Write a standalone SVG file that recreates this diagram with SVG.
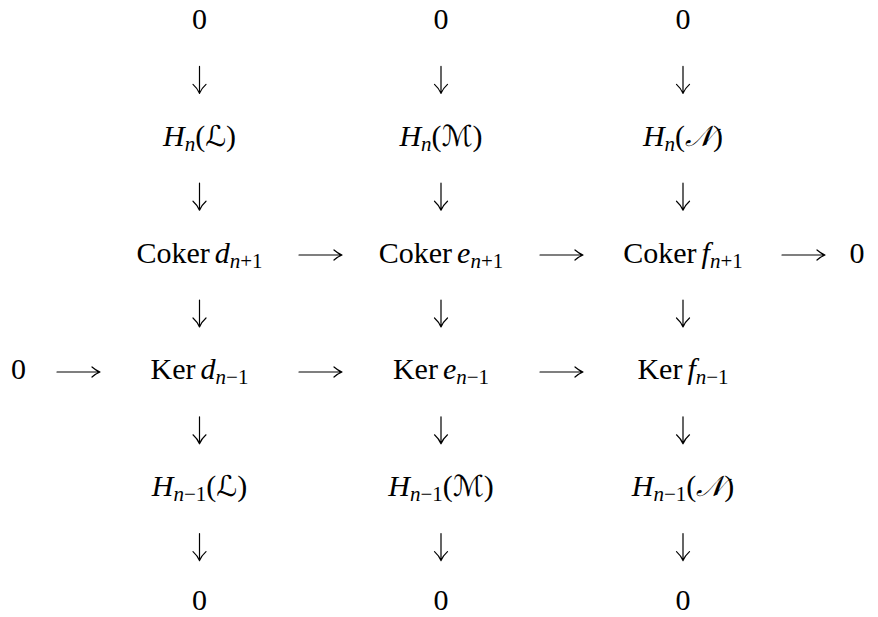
<svg xmlns="http://www.w3.org/2000/svg" width="878" height="617" viewBox="0 0 878 617">
<style>
.t{font-family:"Liberation Serif","DejaVu Serif",serif;font-size:30px;fill:#000;text-anchor:middle}
.i{font-style:italic}
.s{font-size:21px}
.c{font-family:"DejaVu Serif","DejaVu Sans",serif;font-style:italic;font-size:29px}
.a{fill:none;stroke:#000;stroke-width:1.2;stroke-linecap:round}
</style>
<defs>
<path id="dn" class="a" d="M0,0 V27 M-6.5,18 Q-2,22 0,27 M6.5,18 Q2,22 0,27"/>
<path id="rt" class="a" d="M0,0 H43 M35,-5 Q39,-1.5 43,0 M35,5 Q39,1.5 43,0"/>
</defs>
<rect width="878" height="617" fill="#fff"/>
<g id="connectors">
<use href="#dn" x="199.5" y="66.4"/><use href="#dn" x="441" y="66.4"/><use href="#dn" x="683" y="66.4"/>
<use href="#dn" x="199.5" y="183.2"/><use href="#dn" x="441" y="183.2"/><use href="#dn" x="683" y="183.2"/>
<use href="#dn" x="199.5" y="300"/><use href="#dn" x="441" y="300"/><use href="#dn" x="683" y="300"/>
<use href="#dn" x="199.5" y="416.8"/><use href="#dn" x="441" y="416.8"/><use href="#dn" x="683" y="416.8"/>
<use href="#dn" x="199.5" y="533.6"/><use href="#dn" x="441" y="533.6"/><use href="#dn" x="683" y="533.6"/>
<use href="#rt" x="299" y="255"/><use href="#rt" x="540" y="255"/><use href="#rt" x="782" y="255"/>
<use href="#rt" x="57" y="372"/><use href="#rt" x="299" y="372"/><use href="#rt" x="540" y="372"/>
</g>
<g id="zero-top-1"><text class="t" x="199.5" y="29">0</text></g>
<g id="zero-top-2"><text class="t" x="441" y="29">0</text></g>
<g id="zero-top-3"><text class="t" x="683" y="29">0</text></g>
<g id="Hn-L"><text class="t" x="199.5" y="145.8"><tspan class="i">H</tspan><tspan class="s i" dy="5">n</tspan><tspan dy="-5">(</tspan><tspan class="c">ℒ</tspan>)</text></g>
<g id="Hn-M"><text class="t" x="441" y="145.8"><tspan class="i">H</tspan><tspan class="s i" dy="5">n</tspan><tspan dy="-5">(</tspan><tspan class="c">ℳ</tspan>)</text></g>
<g id="Hn-N"><text class="t" x="683" y="145.8"><tspan class="i">H</tspan><tspan class="s i" dy="5">n</tspan><tspan dy="-5">(</tspan><tspan class="c">𝒩</tspan>)</text></g>
<g id="coker-d"><text class="t" x="199.5" y="262.6">Coker<tspan class="i" dx="5">d</tspan><tspan class="s" dy="5"><tspan class="i">n</tspan>+1</tspan></text></g>
<g id="coker-e"><text class="t" x="441" y="262.6">Coker<tspan class="i" dx="5">e</tspan><tspan class="s" dy="5"><tspan class="i">n</tspan>+1</tspan></text></g>
<g id="coker-f"><text class="t" x="683" y="262.6">Coker<tspan class="i" dx="5">f</tspan><tspan class="s" dy="5"><tspan class="i">n</tspan>+1</tspan></text></g>
<g id="zero-right"><text class="t" x="857" y="262.6">0</text></g>
<g id="zero-left"><text class="t" x="18.5" y="379.4">0</text></g>
<g id="ker-d"><text class="t" x="199.5" y="379.4">Ker<tspan class="i" dx="5">d</tspan><tspan class="s" dy="5"><tspan class="i">n</tspan>−1</tspan></text></g>
<g id="ker-e"><text class="t" x="441" y="379.4">Ker<tspan class="i" dx="5">e</tspan><tspan class="s" dy="5"><tspan class="i">n</tspan>−1</tspan></text></g>
<g id="ker-f"><text class="t" x="683" y="379.4">Ker<tspan class="i" dx="5">f</tspan><tspan class="s" dy="5"><tspan class="i">n</tspan>−1</tspan></text></g>
<g id="Hn1-L"><text class="t" x="199.5" y="496.2"><tspan class="i">H</tspan><tspan class="s" dy="5"><tspan class="i">n</tspan>−1</tspan><tspan dy="-5">(</tspan><tspan class="c">ℒ</tspan>)</text></g>
<g id="Hn1-M"><text class="t" x="441" y="496.2"><tspan class="i">H</tspan><tspan class="s" dy="5"><tspan class="i">n</tspan>−1</tspan><tspan dy="-5">(</tspan><tspan class="c">ℳ</tspan>)</text></g>
<g id="Hn1-N"><text class="t" x="683" y="496.2"><tspan class="i">H</tspan><tspan class="s" dy="5"><tspan class="i">n</tspan>−1</tspan><tspan dy="-5">(</tspan><tspan class="c">𝒩</tspan>)</text></g>
<g id="zero-bot-1"><text class="t" x="199.5" y="610">0</text></g>
<g id="zero-bot-2"><text class="t" x="441" y="610">0</text></g>
<g id="zero-bot-3"><text class="t" x="683" y="610">0</text></g>
</svg>
